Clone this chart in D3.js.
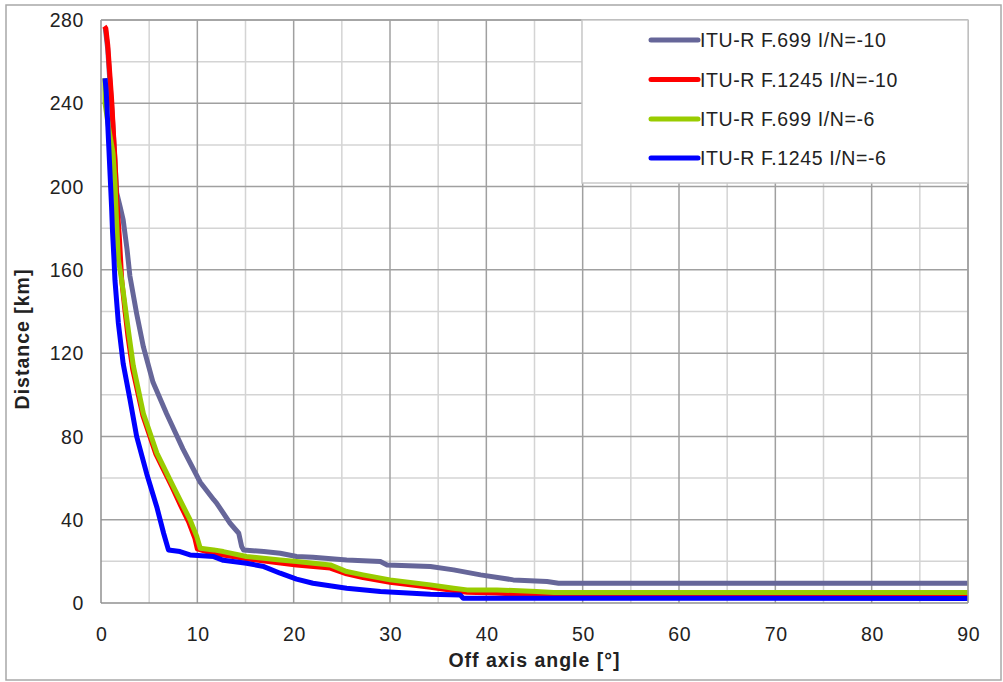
<!DOCTYPE html>
<html>
<head>
<meta charset="utf-8">
<script src="https://cdn.jsdelivr.net/npm/d3@7/dist/d3.min.js"></script>
<style>
  html, body { margin: 0; padding: 0; background: #fff; }
  svg { display: block; }
  text { font-family: "Liberation Sans", Arial, sans-serif; fill: #222; }
</style>
</head>
<body>
<svg id="chart" width="1003" height="682"></svg>
<script>
// Series: [off-axis angle (deg), distance (km)]
const f699_m10 = [
  [0.45,276],[0.7,266],[0.9,252],[1.15,236],[1.4,216],[1.63,197],[2.0,190],[2.3,184],[2.7,170],
  [3.0,157],[3.7,139],[4.4,123],[5.4,106],[6.8,91],[8.5,74],[10.3,58],[11.7,49.6],[12.0,48],
  [13.4,38.3],[14.3,33.5],[14.6,27.1],[14.8,25.5],[16.9,24.7],[18.6,23.9],[20.3,22.3],[22.0,22.0],
  [25.5,20.7],[29.0,19.9],[29.7,18.3],[34.2,17.5],[36.6,15.9],[39.4,13.5],[42.8,11.1],
  [46.3,10.3],[47.5,9.5],[90,9.5]
];
const f1245_m10 = [
  [0.35,277],[0.5,276],[0.7,268],[0.9,255],[1.1,242],[1.3,225],[1.45,213],[1.63,194],[1.9,176],
  [2.15,155],[2.5,140],[2.8,128],[3.3,112],[4.35,90],[5.7,71.5],[7.4,55.5],[8.3,46.5],[9.1,39],
  [9.75,31],[10.0,26],[11.5,24],[12.7,23],[15.5,21],[18.2,19.5],[20.3,18.3],[23.8,16.8],
  [25.5,14],[27.2,12.2],[30.0,10],[34.2,7.5],[36.6,6],[38.0,5.2],[41.0,4.8],[44.2,4.0],
  [46.0,3.6],[90,3.6]
];
const f699_m6 = [
  [0.4,252],[0.42,240],[0.8,228],[1.25,216],[1.45,202],[1.6,185],[1.8,165],[2.15,155],
  [2.84,131],[3.35,114],[4.4,91],[5.8,72],[7.5,56],[9.24,40],[9.94,32],[10.3,26.3],[11.7,25.5],
  [12.7,24.7],[15.1,22.3],[18.6,20.7],[20.3,19.9],[23.8,18.3],[25.5,15.1],[27.2,13.5],
  [30.0,11.1],[34.2,8.7],[36.6,7.1],[38.0,6.3],[41.1,6.3],[45.2,5.5],[47.0,5.0],[90,5.0]
];
const f1245_m6 = [
  [0.42,252],[0.55,245],[0.7,230],[0.8,220],[0.95,205],[1.1,190],[1.2,178],[1.35,165],
  [1.45,155],[1.8,134.5],[2.3,115],[3.0,98],[3.7,80],[4.75,62],[5.8,46],[6.5,33.5],[7.0,25.5],
  [8.2,24.7],[9.24,23.1],[11.7,22.3],[12.7,20.5],[15.1,19.1],[16.9,17.5],[18.6,14.3],
  [20.3,11.5],[22.0,9.5],[25.5,7.1],[29.0,5.5],[34.2,4.2],[37.3,3.8],[37.6,2.3],[90,2.2]
];

const seriesNames = ["ITU-R F.699 I/N=-10", "ITU-R F.1245 I/N=-10", "ITU-R F.699 I/N=-6", "ITU-R F.1245 I/N=-6"];
const seriesColors = ["#666699", "#ff0000", "#99cc00", "#0000ff"];
const seriesData = [f699_m10, f1245_m10, f699_m6, f1245_m6];

const xTicks = [0, 10, 20, 30, 40, 50, 60, 70, 80, 90];
const yTicks = [0, 40, 80, 120, 160, 200, 240, 280];
const xTitle = "Off axis angle [°]";
const yTitle = "Distance [km]";

const svg = d3.select("#chart");
const plot = { left: 101, right: 968, top: 20, bottom: 603 };

const x = d3.scaleLinear().domain([0, 90]).range([plot.left, plot.right]);
const y = d3.scaleLinear().domain([0, 280]).range([plot.bottom, plot.top]);

// outer frame
svg.append("rect")
  .attr("x", 6).attr("y", 5).attr("width", 995).attr("height", 675)
  .attr("fill", "#fff").attr("stroke", "#a8a8a8").attr("stroke-width", 1.5);

// minor grid (every 5 deg / 20 km)
const g = svg.append("g");
g.selectAll(".vminor").data(d3.range(5, 90, 10)).join("line")
  .attr("x1", d => x(d)).attr("x2", d => x(d))
  .attr("y1", plot.top).attr("y2", plot.bottom)
  .attr("stroke", "#d4d4d4").attr("stroke-width", 1.5);
g.selectAll(".hminor").data(d3.range(20, 280, 40)).join("line")
  .attr("x1", plot.left).attr("x2", plot.right)
  .attr("y1", d => y(d)).attr("y2", d => y(d))
  .attr("stroke", "#d4d4d4").attr("stroke-width", 1.5);
// major grid
g.selectAll(".vmajor").data(xTicks.slice(1)).join("line")
  .attr("x1", d => x(d)).attr("x2", d => x(d))
  .attr("y1", plot.top).attr("y2", plot.bottom)
  .attr("stroke", "#a0a0a0").attr("stroke-width", 1.5);
g.selectAll(".hmajor").data(yTicks.slice(1)).join("line")
  .attr("x1", plot.left).attr("x2", plot.right)
  .attr("y1", d => y(d)).attr("y2", d => y(d))
  .attr("stroke", "#a0a0a0").attr("stroke-width", 1.5);

// axes lines
svg.append("line").attr("x1", plot.left).attr("x2", plot.left)
  .attr("y1", plot.top).attr("y2", plot.bottom).attr("stroke", "#909090").attr("stroke-width", 1.5);
svg.append("line").attr("x1", plot.left).attr("x2", plot.right)
  .attr("y1", plot.bottom).attr("y2", plot.bottom).attr("stroke", "#909090").attr("stroke-width", 1.5);

// axis tick labels via d3 axes
const xAxis = d3.axisBottom(x).tickValues(xTicks).tickSize(0).tickPadding(0);
const yAxis = d3.axisLeft(y).tickValues(yTicks).tickSize(0).tickPadding(0);
const xg = svg.append("g").attr("transform", `translate(0,${plot.bottom})`).call(xAxis);
const yg = svg.append("g").attr("transform", `translate(${plot.left},0)`).call(yAxis);
[xg, yg].forEach(a => {
  a.select(".domain").remove();
  a.selectAll("text").attr("font-family", "Liberation Sans, Arial, sans-serif")
    .attr("font-size", 19.5).attr("fill", "#222").style("letter-spacing", "0.6px");
});
xg.selectAll("text").attr("dy", 0).attr("y", 38).attr("dx", 0.3);
yg.selectAll("text").attr("x", -17).attr("dy", "0.34em");

// series lines
const line = d3.line().x(d => x(d[0])).y(d => y(d[1]));
svg.append("g").selectAll("path").data(seriesData).join("path")
  .attr("d", line)
  .attr("fill", "none")
  .attr("stroke", (d, i) => seriesColors[i])
  .attr("stroke-width", 5)
  .attr("stroke-linejoin", "round")
  .attr("stroke-linecap", "butt");

// plot border (right and top)
svg.append("line").attr("x1", plot.right).attr("x2", plot.right)
  .attr("y1", plot.top).attr("y2", plot.bottom).attr("stroke", "#a0a0a0").attr("stroke-width", 1.5);
svg.append("line").attr("x1", plot.left).attr("x2", plot.right)
  .attr("y1", plot.top).attr("y2", plot.top).attr("stroke", "#a0a0a0").attr("stroke-width", 1.5);

// legend
const leg = svg.append("g");
leg.append("rect").attr("x", 582).attr("y", 20).attr("width", 386).attr("height", 163)
  .attr("fill", "#fff").attr("stroke", "#c8c8c8").attr("stroke-width", 1.5);
const rowsY = [40, 79.5, 119, 158];
seriesNames.forEach((name, i) => {
  leg.append("line").attr("x1", 651).attr("x2", 698)
    .attr("y1", rowsY[i]).attr("y2", rowsY[i])
    .attr("stroke", seriesColors[i]).attr("stroke-width", 5).attr("stroke-linecap", "round");
  leg.append("text").attr("x", 700).attr("y", rowsY[i]).attr("dy", "0.36em")
    .attr("font-size", 19.5).style("letter-spacing", "0.6px").text(name);
});

// axis titles
svg.append("text").attr("x", (plot.left + plot.right) / 2).attr("y", 667)
  .attr("text-anchor", "middle").attr("font-weight", "bold").attr("font-size", 19.5)
  .style("letter-spacing", "1px").text(xTitle);
svg.append("text").attr("transform", "translate(29,339) rotate(-90)")
  .attr("text-anchor", "middle").attr("font-weight", "bold").attr("font-size", 19.5)
  .style("letter-spacing", "1px").text(yTitle);
</script>
</body>
</html>
